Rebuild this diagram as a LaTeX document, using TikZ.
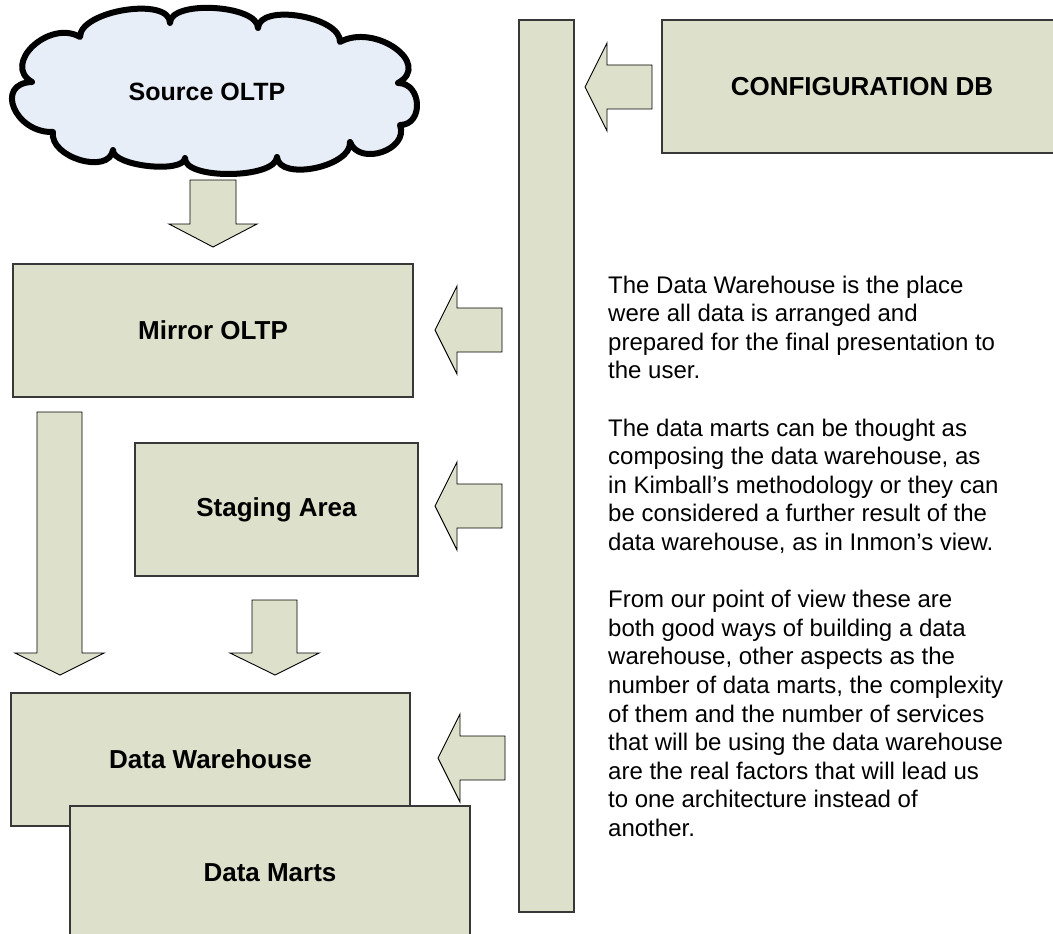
\documentclass[tikz,border=0pt]{standalone}
\usepackage{fontspec}
\setmainfont{Liberation Sans}
\definecolor{boxfill}{RGB}{221,225,203}
\definecolor{cloudfill}{RGB}{232,238,248}
\begin{document}
\begin{tikzpicture}[x=1pt,y=-1pt,
  box/.style={draw=black!78, line width=1.3pt, fill=boxfill, inner sep=0pt,
    font=\fontsize{26}{30}\selectfont\bfseries},
  blockarrow/.style={draw=black, line width=0.9pt, fill=boxfill, line join=miter},
  cloudline/.style={draw=black, line width=6pt, fill=cloudfill, line join=round},
  bodytext/.style={inner sep=0pt, align=left, font=\fontsize{24}{28.6}\selectfont}]
\useasboundingbox (0,0) rectangle (1053,934);
% cloud
\draw[cloudline] (32,82)
  .. controls (1.3,64) and (49.3,19) .. (80,37)
  .. controls (80,10.3) and (170,-3.7) .. (170,23)
  .. controls (170,-0.3) and (258,4.7) .. (258,28)
  .. controls (259.3,2.7) and (341.3,16.7) .. (340,42)
  .. controls (374.7,22.7) and (432.7,63.7) .. (398,83)
  .. controls (422,83) and (424,125) .. (400,125)
  .. controls (409.3,149.7) and (359.3,166.7) .. (350,142)
  .. controls (352,166.7) and (279,181.7) .. (277,157)
  .. controls (275.7,179) and (183.7,180) .. (185,158)
  .. controls (183.7,174) and (111.7,166) .. (113,150)
  .. controls (109,175.3) and (49,157.3) .. (53,132)
  .. controls (15,133.3) and (-6,83.3) .. (32,82) -- cycle;
\node[font=\fontsize{25}{30}\selectfont\bfseries] (src) at (207,92) {Source OLTP};
% boxes
\node[box, minimum width=400pt, minimum height=133pt] (mirror) at (213,330.5) {Mirror OLTP};
\node[box, minimum width=283pt, minimum height=133pt] (staging) at (276.5,509.5) {Staging Area};
\node[box, minimum width=399pt, minimum height=133pt] (dw) at (210.5,759.5) {Data Warehouse};
\node[box, minimum width=400pt, minimum height=133pt] (dm) at (270,872.5) {Data Marts};
\node[box, minimum width=400pt, minimum height=133pt] (config) at (862,86.5) {CONFIGURATION DB};
\node[box, minimum width=55pt, minimum height=892pt] (bar) at (546.5,466) {};
% block arrows
\draw[blockarrow] (190,180) -- (236,180) -- (236,224) -- (257,224) -- (213,247) -- (169,224) -- (190,224) -- cycle;
\draw[blockarrow] (652,65) -- (607,65) -- (607,43) -- (585,87) -- (607,131) -- (607,109) -- (652,109) -- cycle;
\draw[blockarrow] (502,308) -- (457,308) -- (457,286) -- (435,330) -- (457,374) -- (457,352) -- (502,352) -- cycle;
\draw[blockarrow] (502,484) -- (457,484) -- (457,462) -- (435,506) -- (457,550) -- (457,528) -- (502,528) -- cycle;
\draw[blockarrow] (505,736) -- (460,736) -- (460,714) -- (438,758) -- (460,802) -- (460,780) -- (505,780) -- cycle;
\draw[blockarrow] (37,412) -- (82,412) -- (82,653) -- (104,653) -- (60,675) -- (15,653) -- (37,653) -- cycle;
\draw[blockarrow] (252,600) -- (297,600) -- (297,653) -- (319,653) -- (275,675) -- (230,653) -- (252,653) -- cycle;
% text
\node[bodytext, anchor=base west] (desc) at (608,836.4) {The Data Warehouse is the place\\
were all data is arranged and\\
prepared for the final presentation to\\
the user.\\[28.6pt]
The data marts can be thought as\\
composing the data warehouse, as\\
in Kimball’s methodology or they can\\
be considered a further result of the\\
data warehouse, as in Inmon’s view.\\[28.6pt]
From our point of view these are\\
both good ways of building a data\\
warehouse, other aspects as the\\
number of data marts, the complexity\\
of them and the number of services\\
that will be using the data warehouse\\
are the real factors that will lead us\\
to one architecture instead of\\
another.};
\end{tikzpicture}
\end{document}
